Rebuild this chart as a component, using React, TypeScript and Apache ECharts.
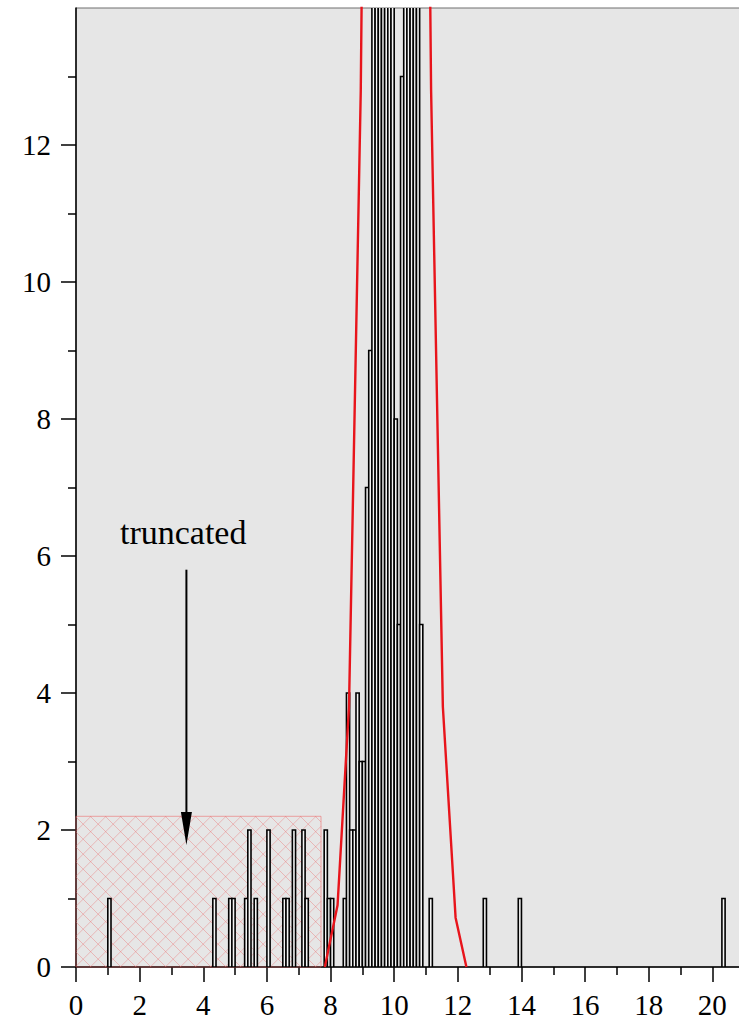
import React, { useEffect, useRef } from "react";
import * as echarts from "echarts";

// Histogram bins (left edge, width 0.1) and their counts
const BIN_WIDTH = 0.1;
const binStarts = [
  1.0, 4.3, 4.8, 4.9, 5.3, 5.4, 5.6, 6.0, 6.5, 6.6, 6.8, 7.1, 7.2, 7.8, 7.9, 8.0,
  8.4, 8.5, 8.6, 8.7, 8.8, 8.9, 9.0, 9.1, 9.2, 9.3, 9.4, 9.5, 9.6, 9.7, 9.8, 9.9,
  10.0, 10.1, 10.2, 10.3, 10.4, 10.5, 10.6, 10.7, 10.8, 11.1, 12.8, 13.9, 20.3,
];
const binCounts = [
  1, 1, 1, 1, 1, 2, 1, 2, 1, 1, 2, 2, 1, 2, 1, 1,
  1, 4, 2, 2, 4, 3, 3, 7, 9, 17, 21, 26, 30, 28, 24, 19,
  8, 5, 13, 22, 26, 23, 19, 15, 5, 1, 1, 1, 1,
];

// Fitted distribution curve
const fitX = [7.82, 8.22, 8.58, 8.95, 9.32, 9.69, 10.05, 10.42, 10.79, 11.16, 11.53, 11.93, 12.27];
const fitY = [0, 0.9, 3.8, 12.8, 30.5, 51.4, 61.2, 51.4, 30.5, 12.8, 3.8, 0.72, 0];

// Truncated region (x range, y range)
const truncX = [0, 7.7];
const truncY = [0, 2.2];

// Annotation
const noteText = "truncated";
const notePos = [3.37, 6.35];
const arrowFrom = [3.47, 5.8];
const arrowTo = [3.47, 1.78];

// Axes
const X_MAX = 20.9;
const Y_MAX = 14;
const xTicks = [0, 2, 4, 6, 8, 10, 12, 14, 16, 18, 20];
const xMinorTicks = [1, 3, 5, 7, 9, 11, 13, 15, 17, 19];
const yTicks = [0, 2, 4, 6, 8, 10, 12];
const yMinorTicks = [1, 3, 5, 7, 9, 11, 13];

const FONT = "Liberation Serif";

export default function App() {
  const ref = useRef<HTMLDivElement>(null);

  useEffect(() => {
    if (!ref.current) return;
    const chart = echarts.init(ref.current, null, { renderer: "svg" });

    const histData = binStarts.map((s, i) => [s, +(s + BIN_WIDTH).toFixed(2), binCounts[i]]);
    const fitData = fitX.map((x, i) => [x, fitY[i]]);

    const makeAxis = (
      kind: "x" | "y",
      customValues: number[],
      len: number,
      withLabel: boolean
    ) => ({
      type: "value",
      min: 0,
      max: kind === "x" ? X_MAX : Y_MAX,
      position: kind === "x" ? "bottom" : "left",
      axisLine: withLabel
        ? { show: true, onZero: false, lineStyle: { color: "#000", width: 1.5 } }
        : { show: false },
      axisTick: {
        show: true,
        customValues,
        length: len,
        lineStyle: { color: "#000", width: 1.5 },
      },
      axisLabel: withLabel
        ? {
            show: true,
            customValues,
            fontSize: 29,
            fontFamily: FONT,
            color: "#000",
            margin: kind === "x" ? 23 : 25,
          }
        : { show: false },
      splitLine: { show: false },
    });

    chart.setOption({
      animation: false,
      backgroundColor: "#ffffff",
      textStyle: { fontFamily: FONT },
      grid: {
        left: 76,
        top: 8,
        right: -2,
        bottom: 52,
        show: true,
        backgroundColor: "#e6e6e6",
        borderColor: "#6e6e6e",
        borderWidth: 1,
        containLabel: false,
        outerBoundsMode: "none",
      },
      xAxis: [makeAxis("x", xTicks, 15, true), makeAxis("x", xMinorTicks, 8, false)],
      yAxis: [makeAxis("y", yTicks, 15, true), makeAxis("y", yMinorTicks, 8, false)],
      series: [
        {
          // cross-hatched truncated region
          type: "custom",
          z: 1,
          xAxisIndex: 0,
          yAxisIndex: 0,
          data: [[truncX[0], truncX[1], truncY[0], truncY[1]]],
          encode: { x: [0, 1], y: [2, 3] },
          renderItem: (_params: any, api: any) => {
            const tl = api.coord([api.value(0), api.value(3)]);
            const br = api.coord([api.value(1), api.value(2)]);
            const x0 = tl[0];
            const y0 = tl[1];
            const w = br[0] - tl[0];
            const h = br[1] - tl[1];
            const step = 15;
            const hatchStyle = { stroke: "rgba(236, 110, 110, 0.4)", lineWidth: 1 };
            const children: any[] = [];
            for (let c = -h; c <= w; c += step) {
              const t0 = Math.max(0, -c);
              const t1 = Math.min(h, w - c);
              if (t1 > t0) {
                children.push({
                  type: "line",
                  shape: { x1: x0 + c + t0, y1: y0 + t0, x2: x0 + c + t1, y2: y0 + t1 },
                  style: hatchStyle,
                });
              }
            }
            for (let c = 0; c <= w + h; c += step) {
              const t0 = Math.max(0, c - w);
              const t1 = Math.min(h, c);
              if (t1 > t0) {
                children.push({
                  type: "line",
                  shape: { x1: x0 + c - t0, y1: y0 + t0, x2: x0 + c - t1, y2: y0 + t1 },
                  style: hatchStyle,
                });
              }
            }
            children.push({
              type: "rect",
              shape: { x: x0, y: y0, width: w, height: h },
              style: { fill: "none", stroke: "rgba(236, 100, 100, 0.55)", lineWidth: 1 },
            });
            return { type: "group", children };
          },
        },
        {
          // histogram bars
          type: "custom",
          z: 2,
          clip: true,
          xAxisIndex: 0,
          yAxisIndex: 0,
          data: histData,
          encode: { x: [0, 1], y: 2 },
          renderItem: (_params: any, api: any) => {
            const p0 = api.coord([api.value(0), 0]);
            const p1 = api.coord([api.value(1), api.value(2)]);
            return {
              type: "rect",
              shape: { x: p0[0], y: p1[1], width: p1[0] - p0[0], height: p0[1] - p1[1] },
              style: { fill: "#f4f4f4", stroke: "#000000", lineWidth: 1.6 },
            };
          },
        },
        {
          // fitted curve
          type: "line",
          z: 3,
          xAxisIndex: 0,
          yAxisIndex: 0,
          data: fitData,
          showSymbol: false,
          clip: true,
          lineStyle: { color: "#e8141b", width: 2.4 },
        },
        {
          // "truncated" note with arrow
          type: "custom",
          z: 4,
          xAxisIndex: 0,
          yAxisIndex: 0,
          data: [[notePos[0], notePos[1]]],
          renderItem: (_params: any, api: any) => {
            const tp = api.coord(notePos);
            const a0 = api.coord(arrowFrom);
            const a1 = api.coord(arrowTo);
            const headLen = 33;
            const headHalf = 5.5;
            return {
              type: "group",
              children: [
                {
                  type: "text",
                  x: tp[0],
                  y: tp[1],
                  style: {
                    text: noteText,
                    font: `34px "${FONT}"`,
                    fill: "#000",
                    align: "center",
                    verticalAlign: "middle",
                  },
                },
                {
                  type: "line",
                  shape: { x1: a0[0], y1: a0[1], x2: a1[0], y2: a1[1] - headLen + 2 },
                  style: { stroke: "#000", lineWidth: 2 },
                },
                {
                  type: "polygon",
                  shape: {
                    points: [
                      [a1[0] - headHalf, a1[1] - headLen],
                      [a1[0] + headHalf, a1[1] - headLen],
                      [a1[0], a1[1]],
                    ],
                  },
                  style: { fill: "#000" },
                },
              ],
            };
          },
        },
      ],
    });

    return () => chart.dispose();
  }, []);

  return (
    <div
      ref={ref}
      style={{ position: "absolute", left: 0, top: 0, width: 739, height: 1019, background: "#fff" }}
    />
  );
}
